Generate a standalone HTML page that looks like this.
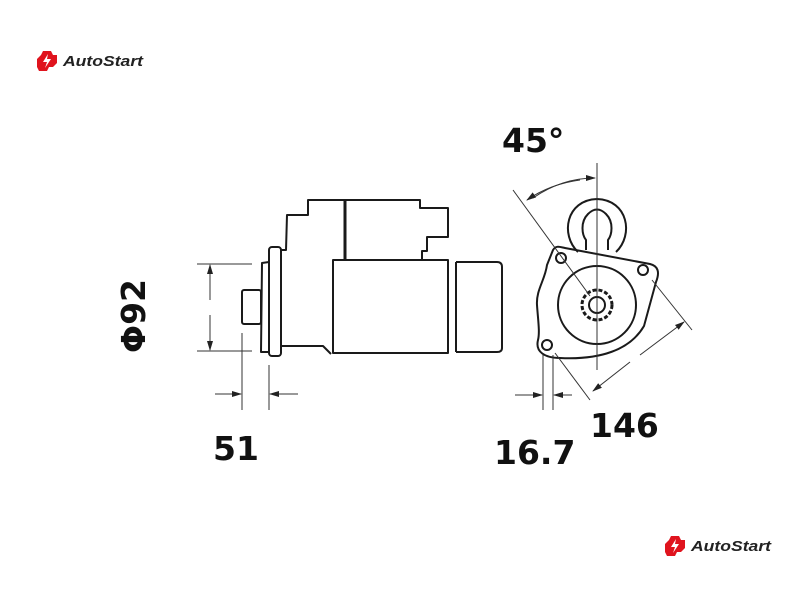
<!DOCTYPE html>
<html><head><meta charset="utf-8"><style>
html,body{margin:0;padding:0;background:#fff;}
svg{display:block;}
text{font-family:"DejaVu Sans","Liberation Sans",sans-serif;}
</style></head><body>
<svg width="800" height="600" viewBox="0 0 800 600" xmlns="http://www.w3.org/2000/svg">
<defs>
<marker id="ar" markerWidth="10" markerHeight="8" refX="9" refY="4" orient="auto" markerUnits="userSpaceOnUse"><path d="M0,1 L10,4 L0,7 z" fill="#222"/></marker>
<g id="logo">
<path d="M6,0 L14,0 L16,4 L20,4 L20,12 L16,16 L12,16 L10,20 L2,20 L0,16 L0,8 L4,4 z" fill="#e0141e"/>
<path d="M11,3 L6,11 L10,11 L8,17 L14,8 L10,8 z" fill="#fff"/>
<text x="26" y="15" font-size="15" font-style="italic" font-weight="bold" fill="#222" textLength="80" lengthAdjust="spacingAndGlyphs" style="font-family:'Liberation Sans',sans-serif">AutoStart</text>
</g>
</defs>
<use href="#logo" x="37" y="51"/>
<use href="#logo" x="665" y="536"/>

<g fill="none" stroke="#1a1a1a" stroke-width="2" stroke-linejoin="round">
<rect x="242" y="290" width="19" height="34" rx="2"/>
<path d="M269,262 L262,263 L261,352 L269,352"/>
<rect x="269" y="247" width="12" height="109" rx="3"/>
<path d="M281,250 L286,250 L287,215 L308,215 L308,200 L420,200 L420,208 L448,208 L448,237 L427,237 L427,251 L422,251 L422,260"/>
<line x1="345" y1="200" x2="345" y2="260" stroke-width="3"/>
<path d="M281,346 L323,346 L331,354"/>
<rect x="333" y="260" width="115" height="93"/>
<line x1="456" y1="262" x2="456" y2="352"/>
<path d="M456,262 L497,262 Q502,262 502,267 L502,348 Q502,352 497,352 L456,352"/>
</g>
<g stroke="#333" stroke-width="1" fill="none">
<line x1="197" y1="264" x2="252" y2="264"/>
<line x1="197" y1="351" x2="252" y2="351"/>
<line x1="210" y1="300" x2="210" y2="265" marker-end="url(#ar)"/>
<line x1="210" y1="315" x2="210" y2="350" marker-end="url(#ar)"/>
<line x1="242" y1="333" x2="242" y2="410"/>
<line x1="269" y1="365" x2="269" y2="410"/>
<line x1="215" y1="394" x2="241" y2="394" marker-end="url(#ar)"/>
<line x1="298" y1="394" x2="270" y2="394" marker-end="url(#ar)"/>
</g>

<g fill="none" stroke="#1a1a1a" stroke-width="2" stroke-linejoin="round">
<path d="M578,252 C560,235 566,200 597,199 C628,200 634,235 616,252"/>
<path d="M586,250 L586,240 C582,235 580,222 588,214 C594,208 600,208 606,214 C614,222 612,235 608,240 L608,250"/>
<path d="M553,250 C556,245 560,247 565,248 L650,264 C658,266 660,272 656,282 L644,326 C630,350 600,360 560,358 C545,358 535,352 538,340 C540,332 538,320 537,305 C536,290 545,280 547,265 Z"/>
<circle cx="561" cy="258" r="5"/>
<circle cx="643" cy="270" r="5"/>
<circle cx="547" cy="345" r="5"/>
<circle cx="597" cy="305" r="39"/>
<circle cx="597" cy="305" r="15" stroke-dasharray="4,2" stroke-width="3"/>
<circle cx="597" cy="305" r="8"/>
</g>
<g stroke="#333" stroke-width="1" fill="none">
<line x1="597" y1="163" x2="597" y2="370"/>
<line x1="513" y1="190" x2="590" y2="296"/>
<path d="M533,198 Q562,178 595,178" marker-end="url(#ar)"/>
<path d="M580,180 Q550,184 527,200" marker-end="url(#ar)"/>
<line x1="652" y1="280" x2="692" y2="330"/>
<line x1="555" y1="353" x2="590" y2="400"/>
<line x1="640" y1="355" x2="684" y2="322" marker-end="url(#ar)"/>
<line x1="630" y1="362" x2="593" y2="391" marker-end="url(#ar)"/>
<line x1="543" y1="355" x2="543" y2="410"/>
<line x1="553" y1="355" x2="553" y2="410"/>
<line x1="515" y1="395" x2="542" y2="395" marker-end="url(#ar)"/>
<line x1="572" y1="395" x2="554" y2="395" marker-end="url(#ar)"/>
</g>

<g fill="#111" font-weight="bold" font-size="33">
<text x="502" y="152">45°</text>
<text x="213" y="460">51</text>
<text x="494" y="464">16.7</text>
<text x="590" y="437">146</text>
<text transform="translate(133,316) rotate(-90)" text-anchor="middle" dy="12">Φ92</text>
</g>
</svg>
</body></html>
